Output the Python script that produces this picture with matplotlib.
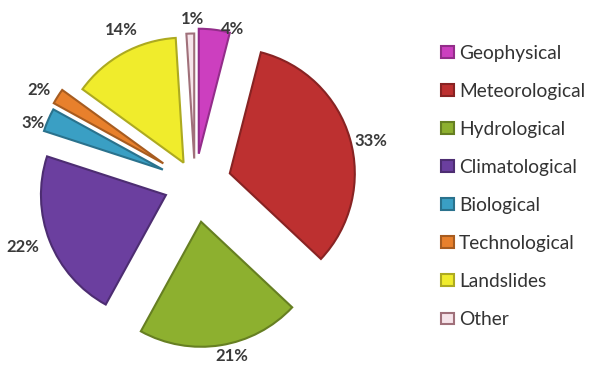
import numpy as np
import matplotlib.pyplot as plt
import matplotlib.colors as mcolors

# disaster categories, clockwise from 12 o'clock
categories = ["Geophysical", "Meteorological", "Hydrological", "Climatological",
              "Biological", "Technological", "Landslides", "Other"]
shares = [4, 33, 21, 22, 3, 2, 14, 1]

colors = ["#cc3fbf", "#bd3030", "#8db02f", "#6b3f9f",
          "#3a9fc4", "#e8802c", "#f0ec2c", "#f6e4ea"]
explode = [0.24, 0.29, 0.31, 0.25, 0.28, 0.3, 0.19, 0.2]
# label placement: distance from centre and angular nudge (degrees, clockwise)
label_r = [1.27, 1.45, 1.41, 1.47, 1.38, 1.45, 1.36, 1.32]
label_da = [6.5, 2.5, -3, 1.5, -3, -1.5, 3, 1]

plt.rcParams['font.family'] = ['Lato', 'DejaVu Sans']

fig = plt.figure(figsize=(5.95, 3.67), dpi=100)
ax = fig.add_axes([0, 0, 390 / 595, 1])

def darker(c, f=0.7):
    r, g, b = mcolors.to_rgb(c)
    return (r * f, g * f, b * f)

wedges, _ = ax.pie(shares, colors=colors, explode=explode, startangle=90,
                   counterclock=False, radius=1.0,
                   wedgeprops=dict(linewidth=1.5))
for w, c in zip(wedges, colors):
    w.set_edgecolor(darker(c, 0.72) if c != "#f6e4ea" else "#a0707a")

# percentage labels around the wedges
for w, v, r, da in zip(wedges, shares, label_r, label_da):
    mid = np.deg2rad((w.theta1 + w.theta2) / 2 - da)
    ax.text(r * np.cos(mid), r * np.sin(mid), f"{v}%", ha="center", va="center",
            fontsize=12, color="#3a3a3a", fontweight="bold")

ax.set_xlim(-1.56, 1.56)
ax.set_ylim(-1.468, 1.468)
ax.set_aspect("equal")
ax.axis("off")

leg = fig.legend(wedges, categories, loc="upper left",
                 bbox_to_anchor=(433 / 595, 1 - 37 / 367),
                 frameon=False, fontsize=13.8, handlelength=0.7, handleheight=0.57,
                 handletextpad=0.25, labelspacing=1.1, borderaxespad=0)
for t in leg.get_texts():
    t.set_color("#333333")

fig.savefig("out.png", dpi=100, facecolor="white")
